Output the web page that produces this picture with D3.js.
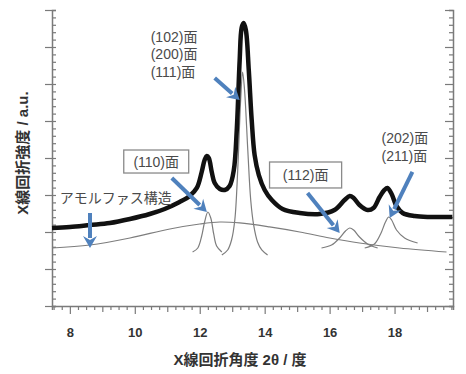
<!DOCTYPE html>
<html>
<head>
<meta charset="utf-8">
<script src="https://cdn.jsdelivr.net/npm/d3@7"></script>
<style>
  body { margin: 0; background: #fff; }
  svg { display: block; }
</style>
</head>
<body>
<div id="chart"></div>
<script>
// measured pattern (2θ in degrees, intensity in a.u.)
const measured = [
  [7.45, 1.054], [8.0, 1.068], [8.62, 1.095], [9.23, 1.122], [9.85, 1.176],
  [10.46, 1.243], [10.92, 1.311], [11.38, 1.405], [11.69, 1.486], [11.91, 1.595],
  [12.06, 1.811], [12.15, 1.973], [12.22, 2.027], [12.28, 2.0], [12.37, 1.811],
  [12.46, 1.662], [12.62, 1.581], [12.77, 1.568], [12.92, 1.622], [13.05, 1.838],
  [13.14, 2.378], [13.23, 3.324], [13.29, 3.757], [13.35, 3.824], [13.42, 3.73],
  [13.51, 3.189], [13.6, 2.514], [13.69, 2.041], [13.82, 1.77], [14.0, 1.568],
  [14.22, 1.432], [14.55, 1.311], [15.08, 1.257], [15.69, 1.243], [16.15, 1.297],
  [16.46, 1.432], [16.62, 1.486], [16.74, 1.459], [16.92, 1.365], [17.17, 1.297],
  [17.35, 1.324], [17.54, 1.473], [17.69, 1.568], [17.78, 1.595], [17.91, 1.514],
  [18.06, 1.351], [18.25, 1.257], [18.62, 1.216], [19.08, 1.203], [19.78, 1.203]
];

// fitted components
const amorphous = [
  [7.45, 0.784], [8.62, 0.824], [9.85, 0.919], [11.08, 1.041], [12.0, 1.108],
  [12.62, 1.135], [13.23, 1.122], [14.15, 1.068], [15.08, 1.0], [16.0, 0.919],
  [16.92, 0.851], [18.15, 0.784], [19.6, 0.73]
];
const peak110 = [
  [11.78, 0.73], [11.94, 0.784], [12.06, 0.946], [12.15, 1.135], [12.25, 1.27],
  [12.34, 1.189], [12.43, 0.973], [12.52, 0.811], [12.68, 0.73]
];
const peak102 = [
  [12.68, 0.689], [12.86, 0.757], [12.98, 0.892], [13.08, 1.162], [13.17, 1.838],
  [13.26, 2.784], [13.32, 3.162], [13.38, 2.919], [13.48, 2.108], [13.57, 1.432],
  [13.66, 1.095], [13.78, 0.865], [13.91, 0.757], [14.09, 0.689]
];
const peak112 = [
  [15.75, 0.784], [16.06, 0.824], [16.31, 0.919], [16.49, 1.014], [16.62, 1.054],
  [16.74, 1.027], [16.92, 0.932], [17.17, 0.838], [17.48, 0.784]
];
const peak202 = [
  [17.08, 0.784], [17.38, 0.838], [17.57, 0.973], [17.72, 1.135], [17.82, 1.203],
  [17.91, 1.162], [18.06, 1.027], [18.31, 0.919], [18.71, 0.851]
];

const xLabels = [8, 10, 12, 14, 16, 18];

const width = 466, height = 374;
const x = d3.scaleLinear().domain([7.45, 19.8]).range([52, 453]);
const y = d3.scaleLinear().domain([0, 4]).range([306, 10]);

const svg = d3.select("#chart").append("svg")
  .attr("width", width)
  .attr("height", height);

const axisColor = "#7a7a7a";
const textColor = "#4a4a4a";
const blue = "#4f81bd";

// ---- axes
const xTicks = d3.range(7.5, 19.76, 0.25).map(v => +v.toFixed(2));
const gx = svg.append("g")
  .attr("transform", `translate(0,${y(0)})`)
  .call(d3.axisBottom(x)
    .tickValues(xTicks)
    .tickSizeOuter(0)
    .tickSize(4)
    .tickFormat(d => xLabels.includes(d) ? d : ""));
gx.selectAll(".tick line")
  .attr("y2", d => xLabels.includes(d) ? 8 : (Number.isInteger(d) ? 6 : 4));
gx.selectAll(".tick text")
  .attr("y", 22)
  .style("font", "bold 13px 'Liberation Sans', Arial, sans-serif")
  .attr("fill", "#333");

const yTicks = d3.range(0, 4.001, 0.1).map(v => +v.toFixed(1));
const isHalf = d => Math.abs(d * 2 - Math.round(d * 2)) < 1e-6;

const gyl = svg.append("g")
  .attr("transform", `translate(${x.range()[0]},0)`)
  .call(d3.axisRight(y).tickValues(yTicks).tickSizeOuter(0).tickSize(4).tickFormat(""));
gyl.selectAll(".tick line")
  .attr("x1", d => isHalf(d) ? -7 : 0)
  .attr("x2", 4);

const gyr = svg.append("g")
  .attr("transform", `translate(${x.range()[1]},0)`)
  .call(d3.axisLeft(y).tickValues(yTicks).tickSizeOuter(0).tickSize(4).tickFormat(""));
gyr.selectAll(".tick line")
  .attr("x2", d => isHalf(d) ? -8 : -4);

svg.selectAll(".domain").attr("stroke", axisColor).attr("stroke-width", 1.5);
svg.selectAll(".tick line").attr("stroke", axisColor).attr("stroke-width", 1.2);

// ---- curves
const line = d3.line()
  .x(d => x(d[0]))
  .y(d => y(d[1]))
  .curve(d3.curveCatmullRom.alpha(0.5));

[amorphous, peak110, peak102, peak112, peak202].forEach(s => {
  svg.append("path")
    .datum(s)
    .attr("d", line)
    .attr("fill", "none")
    .attr("stroke", "#7d7d7d")
    .attr("stroke-width", 1.2);
});

svg.append("path")
  .datum(measured)
  .attr("d", line)
  .attr("fill", "none")
  .attr("stroke", "#111")
  .attr("stroke-width", 4.5)
  .attr("stroke-linejoin", "round");

// ---- annotations
const annFont = "14px 'Liberation Sans', 'Noto Sans CJK JP', sans-serif";

function label(txt, dx, dy, anchor) {
  svg.append("text")
    .attr("x", x(dx))
    .attr("y", y(dy))
    .attr("text-anchor", anchor || "start")
    .attr("dominant-baseline", "central")
    .style("font", annFont)
    .attr("fill", textColor)
    .text(txt);
}

function box(txt, x0, x1, y0, y1) {
  svg.append("rect")
    .attr("x", x(x0)).attr("y", y(y0))
    .attr("width", x(x1) - x(x0)).attr("height", y(y1) - y(y0))
    .attr("fill", "#fff")
    .attr("stroke", "#8a8a8a")
    .attr("stroke-width", 1.3);
  label(txt, (x0 + x1) / 2, (y0 + y1) / 2, "middle");
}

function arrow(a, b, c, d) {
  const x1 = x(a), y1 = y(b), x2 = x(c), y2 = y(d);
  const len = Math.hypot(x2 - x1, y2 - y1);
  const ux = (x2 - x1) / len, uy = (y2 - y1) / len;
  const hl = 12, hw = 7;
  const bx = x2 - ux * hl, by = y2 - uy * hl;
  svg.append("line")
    .attr("x1", x1).attr("y1", y1)
    .attr("x2", bx + ux * 2).attr("y2", by + uy * 2)
    .attr("stroke", blue)
    .attr("stroke-width", 4);
  svg.append("path")
    .attr("d", `M${x2},${y2}L${bx - uy * hw},${by + ux * hw}L${x2 - ux * (hl - 4)},${y2 - uy * (hl - 4)}L${bx + uy * hw},${by - ux * hw}Z`)
    .attr("fill", blue);
}

label("(102)面", 10.49, 3.635);
label("(200)面", 10.49, 3.405);
label("(111)面", 10.49, 3.162);
arrow(12.46, 3.081, 13.23, 2.784);

box("(110)面", 9.66, 11.66, 2.108, 1.797);
arrow(11.14, 1.73, 12.22, 1.27);

label("アモルファス構造", 7.69, 1.459);
arrow(8.62, 1.257, 8.62, 0.784);

box("(112)面", 14.15, 16.37, 1.946, 1.595);
arrow(15.32, 1.527, 16.31, 0.986);

label("(202)面", 17.6, 2.27);
label("(211)面", 17.6, 2.027);
arrow(18.55, 1.811, 17.85, 1.189);

// ---- axis titles
svg.append("text")
  .attr("x", 240)
  .attr("y", 365)
  .attr("text-anchor", "middle")
  .style("font", "bold 15px 'Liberation Sans', 'Noto Sans CJK JP', sans-serif")
  .attr("fill", "#333")
  .text("X線回折角度 2θ / 度");

svg.append("text")
  .attr("transform", "translate(22,153) rotate(-90)")
  .attr("text-anchor", "middle")
  .attr("dominant-baseline", "central")
  .style("font", "bold 15px 'Liberation Sans', 'Noto Sans CJK JP', sans-serif")
  .attr("fill", "#333")
  .text("X線回折強度 / a.u.");
</script>
</body>
</html>
